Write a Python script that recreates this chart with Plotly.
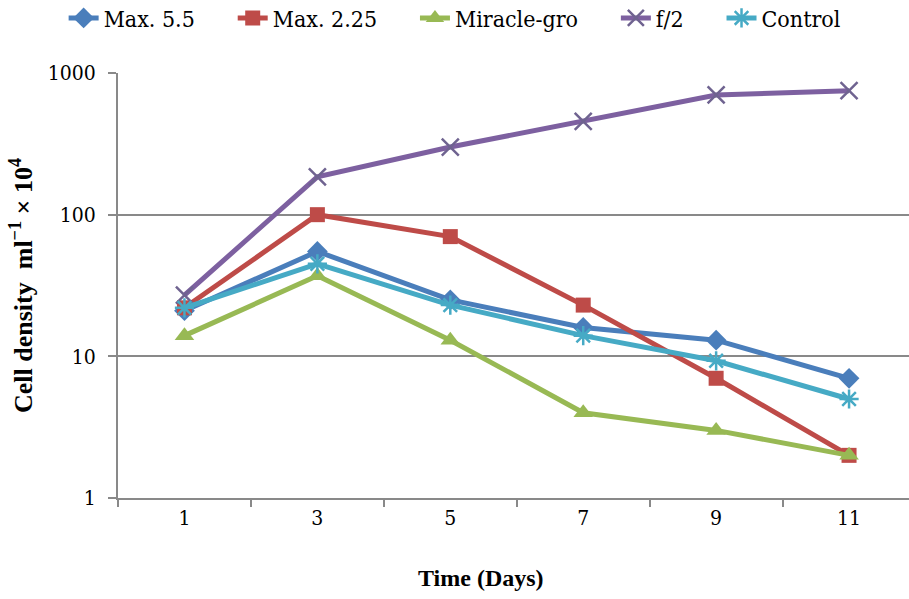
import plotly.graph_objects as go

days = ["1", "3", "5", "7", "9", "11"]
max55 = [21, 55, 25, 16, 13, 7]
max225 = [22, 100, 70, 23, 7, 2]
miracle = [14, 37, 13, 4, 3, 2]
f2 = [27, 185, 300, 455, 700, 750]
control = [22, 45, 23, 14, 9.3, 5]

BOLD = "Liberation Serif"
REG = "DejaVu Serif Condensed"
pads = [5, 5, 5, 5, 0]

series = [
    ("Max. 5.5", max55, "#4A7EBB", dict(symbol="diamond", size=16, color="#4A7EBB")),
    ("Max. 2.25", max225, "#BE4B48", dict(symbol="square", size=15, color="#BE4B48")),
    ("Miracle-gro", miracle, "#98B954", dict(symbol="triangle-up", size=17, color="#98B954")),
    ("f/2", f2, "#7D60A0", dict(symbol="x-thin-open", size=17, color="#6F6390",
                                line=dict(width=2.5, color="#6F6390"))),
    ("Control", control, "#46AAC5", dict(symbol="asterisk-open", size=16, color="#46AAC5",
                                        line=dict(width=2.5, color="#46AAC5"))),
]

fig = go.Figure()
for i, (name, vals, col, mk) in enumerate(series):
    fig.add_trace(go.Scatter(
        x=days, y=vals, name=name + "\u00a0" * pads[i],
        mode="lines+markers",
        line=dict(color=col, width=5), marker=mk,
    ))

grid = "#898989"
fig.update_layout(
    width=909, height=599,
    margin=dict(l=118, r=0, t=73, b=101),
    paper_bgcolor="white", plot_bgcolor="white",
    font=dict(family=REG, color="black"),
    legend=dict(
        orientation="h", xref="container", yref="container",
        x=0.07, y=1 - 18 / 599, xanchor="left", yanchor="middle",
        font=dict(size=23, family=REG),
        itemwidth=30, tracegroupgap=0,
    ),
    xaxis=dict(
        type="category", range=[-0.5, 5.451],
        tickson="boundaries", ticks="outside", ticklen=7, tickcolor=grid, tickwidth=1.5,
        showline=True, linecolor=grid, linewidth=2, showgrid=False,
        tickfont=dict(size=21, family=REG), zeroline=False,
    ),
    yaxis=dict(
        type="log", range=[0, 3],
        tickvals=[1, 10, 100, 1000], ticktext=["1", "10", "100", "1000"],
        ticks="outside", ticklen=8, tickcolor=grid, tickwidth=1.5,
        showline=True, linecolor=grid, linewidth=2,
        showgrid=True, gridcolor=grid, gridwidth=2,
        tickfont=dict(size=21, family=REG), ticklabelstandoff=8,
        title=dict(text="<b>Cell density  ml<sup>−1</sup> × 10<sup>4</sup></b>",
                   font=dict(size=26, family=BOLD), standoff=8),
    ),
    annotations=[dict(
        text="<b>Time (Days)</b>", xref="paper", yref="paper",
        x=(481 - 118) / 791, y=(498 - 578) / 425, xanchor="center", yanchor="middle",
        showarrow=False, font=dict(size=24, family=BOLD),
    )],
)

fig.write_html("out.html")
